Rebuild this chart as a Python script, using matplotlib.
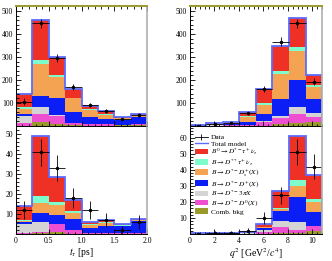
import numpy as np
import matplotlib
matplotlib.use("Agg")
import matplotlib.pyplot as plt
from matplotlib.ticker import MultipleLocator, AutoMinorLocator
from matplotlib.patches import Patch
from matplotlib.lines import Line2D

plt.rcParams['font.family'] = ['Liberation Serif', 'DejaVu Serif']
plt.rcParams['mathtext.fontset'] = 'stix'

# binning
t_edges = [0, 0.25, 0.5, 0.75, 1.0, 1.25, 1.5, 1.75, 2.0]
q2_edges = [0, 1.35, 2.7, 4.05, 5.4, 6.75, 8.1, 9.45, 10.8]

# component order (bottom -> top)
names = ['comb', 'd0', '3pi', 'dplus', 'ds', 'dstst', 'sig']
colors = {'comb': '#9a9a2a', 'd0': '#ee4fd0', '3pi': '#d4d4d4', 'dplus': '#0a1ef5',
          'ds': '#f4a352', 'dstst': '#7dfccc', 'sig': '#ee3124'}
labels = {'sig': r'$B^0 \rightarrow D^{*-}\tau^{+}\,\nu_{\tau}$',
          'dstst': r'$B \rightarrow D^{**}\tau^{+}\,\nu_{\tau}$',
          'ds': r'$B \rightarrow D^{*-}D_s^{+}(X)$',
          'dplus': r'$B \rightarrow D^{*-}D^{+}(X)$',
          '3pi': r'$B \rightarrow D^{*-}3\pi X$',
          'd0': r'$B \rightarrow D^{*-}D^{0}(X)$',
          'comb': 'Comb. bkg'}

# t_tau, full sample
t_top = {
    'comb':  [2, 17, 9, 3, 2, 2, 3, 4],
    'd0':    [10, 35, 36, 11, 7, 5, 3, 5],
    '3pi':   [33, 32, 3, 0, 0, 0, 0, 0],
    'dplus': [6, 48, 75, 48, 32, 24, 19, 31],
    'ds':    [24, 136, 89, 59, 31, 19, 9, 8],
    'dstst': [9, 19, 10, 2, 1, 1, 1, 1],
    'sig':   [54, 174, 77, 36, 15, 13, 6, 3],
}
t_top_data = [106, 446, 295, 168, 91, 66, 30, 48]
t_top_err = [15, 21, 17, 13, 10, 8, 6, 7]

# t_tau, signal-enriched
t_bot = {
    'comb':  [0.2, 0.5, 1.0, 0.3, 0.2, 0.2, 0.2, 0.3],
    'd0':    [0.3, 0.7, 4.0, 1.7, 0.5, 0.6, 0.5, 0.4],
    '3pi':   [4.5, 5.0, 0.3, 0.0, 0.0, 0.0, 0.0, 0.0],
    'dplus': [1.0, 4.6, 4.5, 5.5, 2.5, 3.4, 3.3, 6.0],
    'ds':    [0.5, 5.0, 4.7, 3.2, 1.6, 1.6, 0.3, 0.4],
    'dstst': [0.7, 3.2, 1.7, 0.8, 0.2, 0.2, 0.1, 0.1],
    'sig':   [6.8, 30.0, 12.5, 5.5, 1.2, 1.0, 0.6, 0.3],
}
t_bot_data = [12, 41, 33, 18, 12, 7, 2, 6]
t_bot_err = [4.5, 6.7, 6.5, 5.0, 4.5, 3.5, 2.0, 3.5]

# q2, full sample
q_top = {
    'comb':  [0.5, 1, 1, 1, 2, 7, 12, 19],
    'd0':    [0.5, 1, 1.5, 2, 15, 26, 40, 22],
    '3pi':   [0.5, 1, 1, 1, 5, 12, 29, 14],
    'dplus': [1.5, 3, 5, 12, 29, 71, 119, 62],
    'ds':    [2, 6, 7, 25, 42, 110, 127, 51],
    'dstst': [0.2, 0.5, 0.5, 1, 6, 13, 18, 10],
    'sig':   [0.8, 1.5, 3, 17, 63, 109, 123, 44],
}
q_top_data = [2, 8, 15, 55, 162, 367, 446, 193]
q_top_err = [2, 3, 4, 7, 13, 19, 21, 14]

# q2, signal-enriched
q_bot = {
    'comb':  [0.05, 0.1, 0.1, 0.1, 0.3, 1.0, 1.0, 2.0],
    'd0':    [0.05, 0.1, 0.1, 0.2, 1.0, 3.2, 1.8, 2.8],
    '3pi':   [0.05, 0.1, 0.1, 0.2, 1.5, 3.8, 5.0, 0.5],
    'dplus': [0.2, 0.3, 0.3, 0.4, 0.8, 6.1, 15.5, 8.4],
    'ds':    [0.1, 0.2, 0.2, 0.2, 0.7, 1.2, 6.5, 6.5],
    'dstst': [0.0, 0.05, 0.05, 0.1, 0.4, 0.8, 4.0, 1.7],
    'sig':   [0.05, 0.15, 0.15, 0.3, 1.8, 10.6, 27.2, 14.8],
}
q_bot_data = [0.3, 1, 1, 2, 10, 24, 51, 42]
q_bot_err = [0.6, 1, 1, 1.5, 3.5, 5.5, 8, 8]

model_color = '#5c6cff'


def draw(ax, edges, comps, data, err):
    edges = np.array(edges)
    widths = np.diff(edges)
    bottom = np.zeros(len(widths))
    for n in names:
        vals = np.array(comps[n])
        ax.bar(edges[:-1], vals, width=widths, bottom=bottom, align='edge',
               color=colors[n], linewidth=0)
        bottom += vals
    ax.stairs(bottom, edges, color=model_color, lw=1.3, baseline=0)
    centers = 0.5 * (edges[1:] + edges[:-1])
    ax.errorbar(centers, data, xerr=widths / 2, yerr=err, fmt='o', color='black',
                ms=1.5, elinewidth=0.6, capsize=0)


def style(ax, top):
    ax.tick_params(which='both', direction='in', labelsize=5.5, pad=2,
                   top=top, right=False, width=0.6)
    ax.tick_params(which='major', length=3.5)
    ax.tick_params(which='minor', length=1.8)
    ax.yaxis.set_minor_locator(AutoMinorLocator(5))
    ax.xaxis.set_minor_locator(AutoMinorLocator(5))
    for s in ['left', 'bottom']:
        ax.spines[s].set_linewidth(0.7)
    ax.spines['right'].set_color('#b0b0b0')
    ax.spines['right'].set_linewidth(1.2)
    if top:
        ax.spines['top'].set_color('#9a9a2a')
        ax.spines['top'].set_linewidth(1.4)
    else:
        ax.spines['top'].set_visible(False)


fig = plt.figure(figsize=(3.32, 2.61), dpi=100)

ax1 = fig.add_axes([0.048, 0.517, 0.395, 0.46])
ax2 = fig.add_axes([0.048, 0.103, 0.395, 0.41])
ax3 = fig.add_axes([0.572, 0.517, 0.398, 0.46])
ax4 = fig.add_axes([0.572, 0.103, 0.398, 0.41])

draw(ax1, t_edges, t_top, t_top_data, t_top_err)
draw(ax2, t_edges, t_bot, t_bot_data, t_bot_err)
draw(ax3, q2_edges, q_top, q_top_data, q_top_err)
draw(ax4, q2_edges, q_bot, q_bot_data, q_bot_err)

for ax in [ax1, ax2]:
    ax.set_xlim(0, 2)
    ax.xaxis.set_major_locator(MultipleLocator(0.5))
for ax in [ax3, ax4]:
    ax.set_xlim(0, 10.8)
    ax.xaxis.set_major_locator(MultipleLocator(2))

ax1.set_ylim(0, 522)
ax3.set_ylim(0, 522)
ax2.set_ylim(0, 53.5)
ax4.set_ylim(0, 66.5)
for ax in [ax1, ax3]:
    ax.set_yticks([100, 200, 300, 400, 500])
    ax.tick_params(labelbottom=False)
ax2.set_yticks([10, 20, 30, 40, 50])
ax4.set_yticks([10, 20, 30, 40, 50, 60])

style(ax1, True)
style(ax3, True)
style(ax2, False)
style(ax4, False)

ax2.set_xticks([0, 0.5, 1.0, 1.5, 2.0])
ax2.set_xticklabels(['0', '0.5', '1.0', '1.5', '2.0'])

ax2.set_xlabel(r'$t_{\tau}$ [ps]', fontsize=7, labelpad=1)
ax4.set_xlabel(r'$q^2$ [GeV$^2$/$c^4$]', fontsize=7, labelpad=1)

handles = [Line2D([], [], color='black', marker='|', ms=5, mew=0.6, lw=0.6),
           Line2D([], [], color=model_color, lw=1.0)]
leg_labels = ['Data', 'Total model']
for n in ['sig', 'dstst', 'ds', 'dplus', '3pi', 'd0', 'comb']:
    handles.append(Patch(facecolor=colors[n], edgecolor='none'))
    leg_labels.append(labels[n])
ax4.legend(handles, leg_labels, loc='upper left', bbox_to_anchor=(0.0, 0.985),
           frameon=False, fontsize=5.3, handlelength=1.7, handleheight=0.8,
           labelspacing=0.0, handletextpad=0.4, borderaxespad=0.3)

fig.savefig('out.png', dpi=100)
